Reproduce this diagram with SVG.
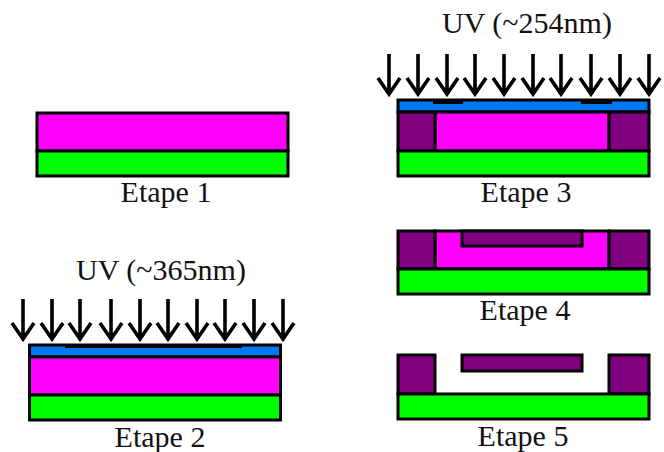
<svg xmlns="http://www.w3.org/2000/svg" width="664" height="452" viewBox="0 0 664 452">
<style>
.s{stroke:#000;stroke-width:3}
.g{fill:#00ff00}.m{fill:#ff00ff}.p{fill:#800080}.b{fill:#0078f0}.k{fill:#000;stroke:none}
text{font-family:"Liberation Serif","Times New Roman",serif;font-size:30px;fill:#111;text-anchor:middle}
.a{fill:none;stroke:#000;stroke-width:3.6}
</style>
<defs>
<path id="ar" class="a" d="M0 0V40M-11 24L0 40L11 24"/>
</defs>
<rect width="664" height="452" fill="#fff"/>
<g id="etape1">
<rect class="s m" x="37" y="113" width="251" height="38"/>
<rect class="s g" x="37" y="151" width="251" height="25"/>
<text x="166" y="202">Etape 1</text>
</g>
<g id="etape2">
<rect class="s b" x="29.500" y="345" width="251" height="12"/>
<rect class="k" x="65" y="344" width="177" height="4"/>
<rect class="s m" x="29.500" y="357" width="251" height="38"/>
<rect class="s g" x="29.500" y="395" width="251" height="25"/>
<text x="160" y="447">Etape 2</text>
<text x="161" y="280">UV (~365nm)</text>
</g>
<g id="etape3">
<rect class="s b" x="398" y="100" width="251" height="12"/>
<rect class="k" x="433" y="99" width="30" height="5"/>
<rect class="k" x="581" y="99" width="31" height="5"/>
<rect class="s m" x="435" y="112" width="174" height="39"/>
<rect class="s p" x="398" y="112" width="37" height="39"/>
<rect class="s p" x="609" y="112" width="40" height="39"/>
<rect class="s g" x="398" y="151" width="251" height="25"/>
<text x="526" y="202">Etape 3</text>
<text x="527" y="33">UV (~254nm)</text>
</g>
<g id="etape4">
<rect class="s m" x="435" y="231" width="174" height="38"/>
<rect class="s p" x="398" y="231" width="37" height="38"/>
<rect class="s p" x="609" y="231" width="40" height="38"/>
<rect class="s p" x="462" y="231" width="120" height="15"/>
<rect class="s g" x="398" y="269" width="251" height="25"/>
<text x="525" y="320">Etape 4</text>
</g>
<g id="etape5">
<rect class="s p" x="398" y="355" width="37" height="39"/>
<rect class="s p" x="609" y="355" width="40" height="39"/>
<rect class="s p" x="462" y="355" width="120" height="16"/>
<rect class="s g" x="398" y="394" width="251" height="25"/>
<text x="523" y="446">Etape 5</text>
</g>
<g id="connectors">
<use href="#ar" x="23" y="299"/><use href="#ar" x="52" y="299"/><use href="#ar" x="80" y="299"/><use href="#ar" x="111" y="299"/><use href="#ar" x="140" y="299"/><use href="#ar" x="168" y="299"/><use href="#ar" x="197" y="299"/><use href="#ar" x="225" y="299"/><use href="#ar" x="254" y="299"/><use href="#ar" x="283" y="299"/>
<use href="#ar" x="389" y="54"/><use href="#ar" x="418" y="54"/><use href="#ar" x="447" y="54"/><use href="#ar" x="475" y="54"/><use href="#ar" x="504" y="54"/><use href="#ar" x="533" y="54"/><use href="#ar" x="561" y="54"/><use href="#ar" x="591" y="54"/><use href="#ar" x="620" y="54"/><use href="#ar" x="649" y="54"/>
</g>
</svg>
